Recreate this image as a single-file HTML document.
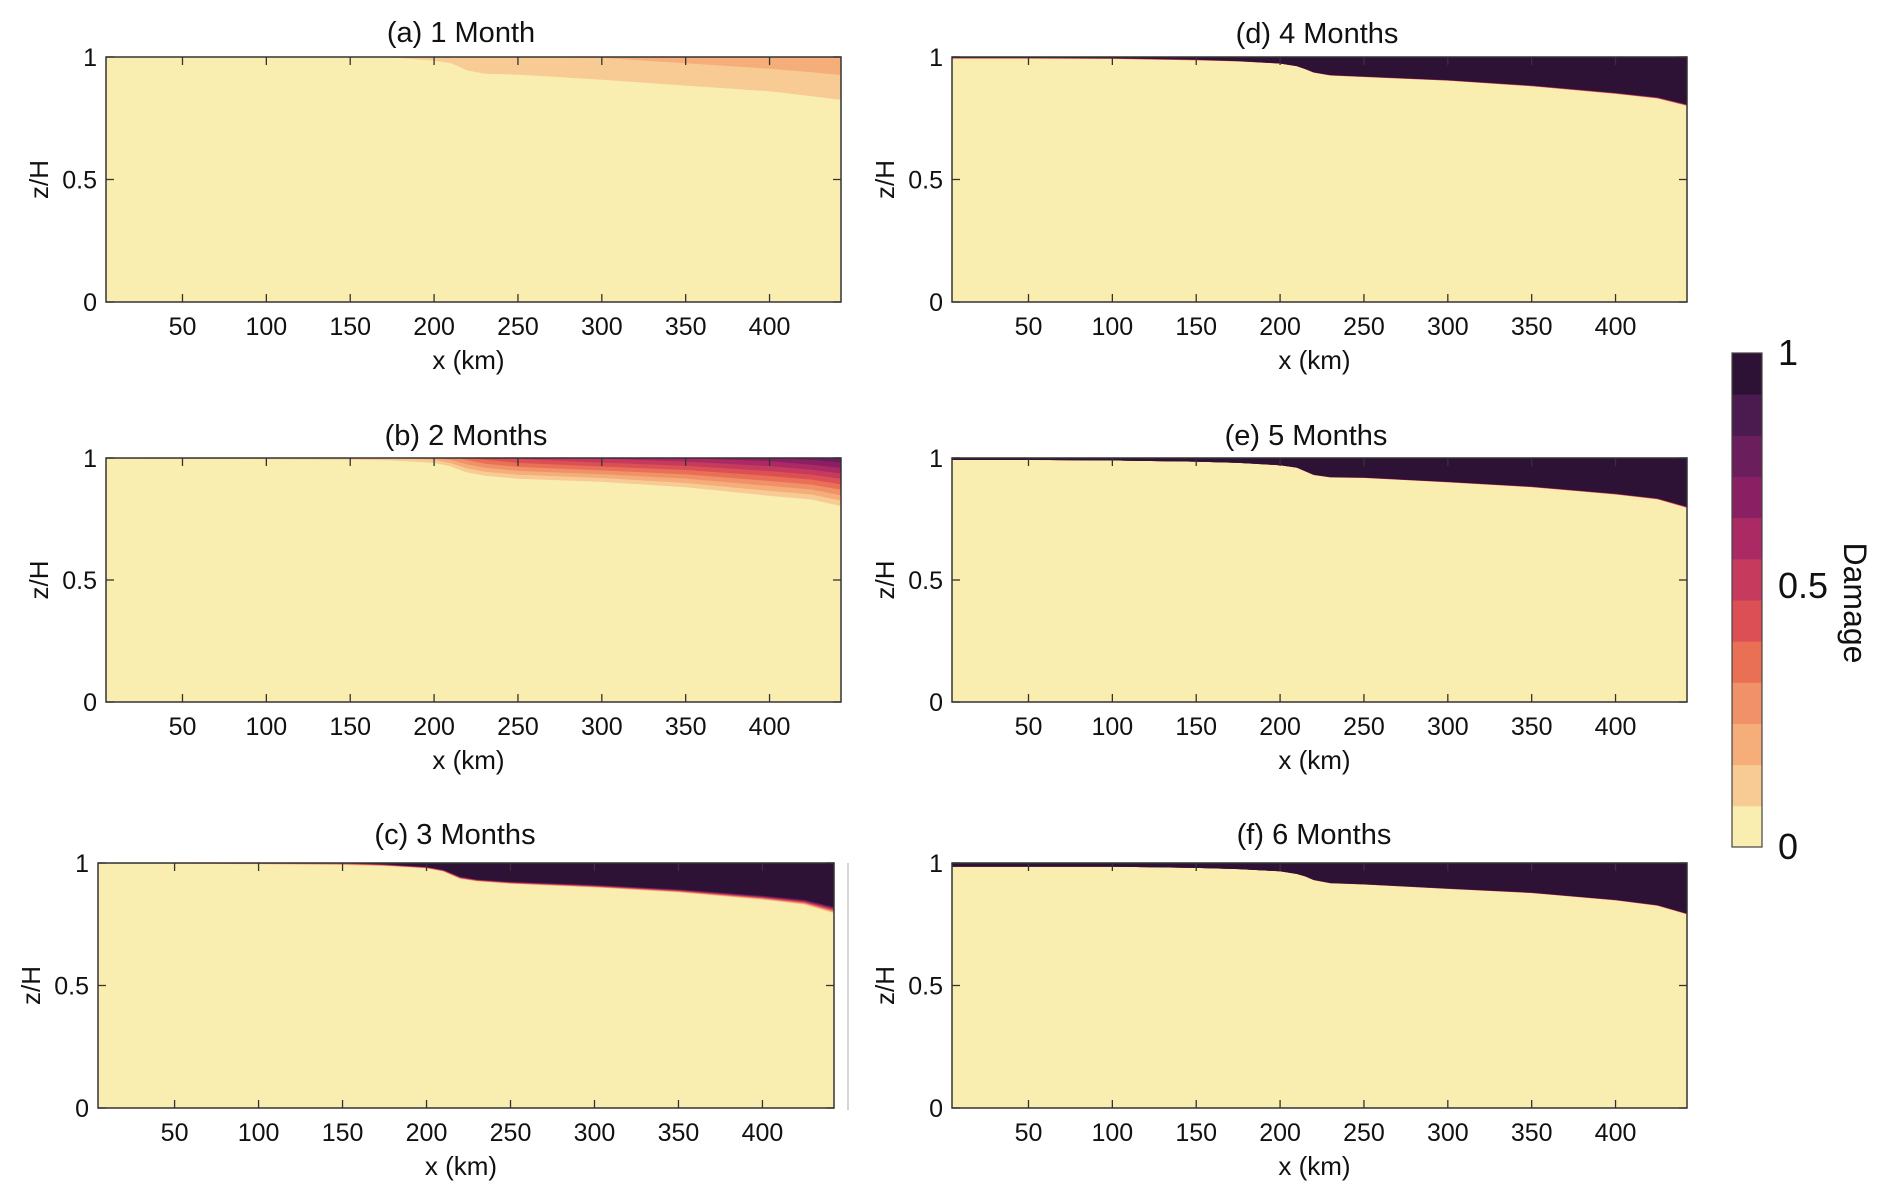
<!DOCTYPE html>
<html><head><meta charset="utf-8">
<style>
html,body{margin:0;padding:0;background:#fff;}
svg{display:block;}
text{font-family:"Liberation Sans",sans-serif;fill:#111;}
</style></head>
<body>
<svg id="fig" width="1892" height="1202" viewBox="0 0 1892 1202" xmlns="http://www.w3.org/2000/svg"></svg>
<script>
// ---- data ----
const xKm = [5, 50, 100, 150, 175, 200, 210, 215, 220, 230, 250, 300, 350, 400, 425, 443];
const xTicks = [50, 100, 150, 200, 250, 300, 350, 400];
const yTicks = [0, 0.5, 1];
const yTickLabels = ["0", "0.5", "1"];
const cbarTickLabels = ["0", "0.5", "1"];
const cbarTickValues = [0, 0.5, 1];
const binColors = ["#f9eeb0","#f8cb94","#f5ad7a","#f0916a","#ea7055","#dc5055","#c63a5d","#ab2a64","#8b1f63","#6a1f5c","#4b1a4e","#2d1236"];
// depth (z/H) where damage reaches first level, and damage value at the surface
const frontA = [1,1,1,1,0.998,0.985,0.975,0.96,0.945,0.932,0.928,0.907,0.883,0.86,0.84,0.825];
const surfA  = [0,0,0,0,0.09,0.10,0.10,0.105,0.11,0.12,0.13,0.17,0.19,0.21,0.22,0.227];
const frontB = [0.997,0.996,0.995,0.993,0.99,0.98,0.965,0.952,0.94,0.928,0.915,0.902,0.88,0.845,0.83,0.803];
const surfB  = [0.1,0.1,0.1,0.12,0.15,0.22,0.3,0.34,0.38,0.45,0.52,0.6,0.65,0.72,0.78,0.82];
const frontC = [0.997,0.997,0.995,0.992,0.988,0.978,0.965,0.95,0.935,0.925,0.915,0.9,0.88,0.85,0.83,0.795];
const surfC  = [0.5,0.5,0.55,0.7,1.5,3,4,5,6,8,8.5,8,8,7.5,7,6.5];
const frontD = [0.993,0.993,0.992,0.986,0.982,0.973,0.962,0.95,0.936,0.924,0.918,0.903,0.88,0.849,0.83,0.80];
const surfD  = [1.5,1.5,2,3,8,20,25,25,25,25,25,25,25,25,25,25];
const frontE = [0.992,0.992,0.99,0.985,0.98,0.97,0.96,0.945,0.93,0.92,0.918,0.9,0.88,0.85,0.83,0.795];
const surfE  = [30,30,30,30,30,30,30,30,30,30,30,30,30,30,30,30];
const frontF = [0.985,0.985,0.985,0.98,0.975,0.966,0.955,0.945,0.93,0.917,0.912,0.894,0.877,0.847,0.825,0.79];
const surfF  = [40,40,40,40,40,40,40,40,40,40,40,40,40,40,40,40];

const panels = [
 {id:"a", title:"(a) 1 Month",  L:106, R:841, T:57,  B:302, tx:461,  ty:32,  front:frontA, surf:surfA},
 {id:"b", title:"(b) 2 Months", L:106, R:841, T:458, B:702, tx:466,  ty:435, front:frontB, surf:surfB},
 {id:"c", title:"(c) 3 Months", L:98,  R:834, T:863, B:1108,tx:455,  ty:834, front:frontC, surf:surfC},
 {id:"d", title:"(d) 4 Months", L:952, R:1687,T:57,  B:302, tx:1317, ty:33,  front:frontD, surf:surfD},
 {id:"e", title:"(e) 5 Months", L:952, R:1687,T:458, B:702, tx:1306, ty:435, front:frontE, surf:surfE},
 {id:"f", title:"(f) 6 Months", L:952, R:1687,T:863, B:1108,tx:1314, ty:834, front:frontF, surf:surfF}
];
const X0 = 4.4, X1 = 442.6;
const NS = "http://www.w3.org/2000/svg";
const svg = document.getElementById("fig");
function mk(tag, attrs, parent){ const e=document.createElementNS(NS,tag); for(const k in attrs) e.setAttribute(k,attrs[k]); (parent||svg).appendChild(e); return e; }

panels.forEach(p=>{
  const g = mk("g",{});
  
  
  const sx = v => p.L + (v - X0)/(X1 - X0)*(p.R - p.L);
  const sy = v => p.B - v*(p.B - p.T);
  const bg = mk("rect",{x:p.L,y:p.T,width:p.R-p.L,height:p.B-p.T,fill:binColors[0]},g);
  
  
  for(let k=1;k<12;k++){
    const thr = k/12;
    const pts = [];
    pts.push(sx(X0)+","+sy(1));
    for(let i=0;i<xKm.length;i++){
      const f=p.front[i], s=p.surf[i];
      let z=1;
      if(s>thr){ z = f + (1-f)*((thr-1/12)/(s-1/12)); if(z>1) z=1; }
      const xx = i===0 ? X0 : (i===xKm.length-1 ? X1 : xKm[i]);
      pts.push(sx(xx)+","+sy(z));
    }
    pts.push(sx(X1)+","+sy(1));
    const poly = mk("polygon",{points:pts.join(" "),fill:binColors[k]},g);
    
    
  }
  const fr = mk("rect",{x:p.L,y:p.T,width:p.R-p.L,height:p.B-p.T,fill:"none",stroke:"#333",'stroke-width':1.5},g);
  
  
  xTicks.forEach(t=>{
    const x=sx(t);
    mk("line",{x1:x,x2:x,y1:p.B,y2:p.B-8,stroke:"#333",'stroke-width':1.3},g);
    mk("line",{x1:x,x2:x,y1:p.T,y2:p.T+8,stroke:"#333",'stroke-width':1.3},g);
    const tl = mk("text",{x:x,y:p.B+33,'font-size':25,'text-anchor':"middle"},g);
    tl.textContent = t;
    
    
  });
  yTicks.forEach((t,i)=>{
    const y=sy(t);
    mk("line",{x1:p.L,x2:p.L+8,y1:y,y2:y,stroke:"#333",'stroke-width':1.3},g);
    mk("line",{x1:p.R,x2:p.R-8,y1:y,y2:y,stroke:"#333",'stroke-width':1.3},g);
    const tl = mk("text",{x:p.L-9,y:y+9,'font-size':25,'text-anchor':"end"},g);
    tl.textContent = yTickLabels[i];
    
    
  });
  const ti = mk("text",{x:p.tx,y:p.ty+10,'font-size':29,'text-anchor':"middle"},g);
  ti.textContent = p.title;
  
  
  const xl = mk("text",{x:(p.L+p.R)/2-5,y:p.B+67,'font-size':26,'text-anchor':"middle"},g);
  xl.textContent = "x (km)";
  
  
  const cy=(p.T+p.B)/2;
  const yl = mk("text",{x:p.L-67,y:cy,'font-size':26,'text-anchor':"middle",transform:`rotate(-90 ${p.L-67} ${cy})`,'dominant-baseline':"central"},g);
  yl.textContent = "z/H";
  
  
});
const vl = mk("line",{x1:848,x2:848,y1:863,y2:1110,stroke:"#c8c8c8",'stroke-width':1.5});



// colorbar
const cb = mk("g",{});


const CL=1732, CR=1762, CT=353, CB=847;
binColors.forEach((c,i)=>{
  const h=(CB-CT)/12;
  const r = mk("rect",{x:CL,y:CB-(i+1)*h,width:CR-CL,height:h+0.5,fill:c},cb);
  
  
});
mk("rect",{x:CL,y:CT,width:CR-CL,height:CB-CT,fill:"none",stroke:"#444",'stroke-width':1.2},cb);
cbarTickLabels.forEach((lab,i)=>{
  let y = CB - cbarTickValues[i]*(CB-CT);
  if(cbarTickValues[i]===0.5) y -= 14;
  const t = mk("text",{x:1778,y:y+12,'font-size':36},cb);
  t.textContent = lab;
  
  
});
const dm = mk("text",{x:1855,y:603,'font-size':32,'text-anchor':"middle",'dominant-baseline':"central",transform:"rotate(90 1855 603)"},cb);
dm.textContent = "Damage";


</script>
</body></html>
